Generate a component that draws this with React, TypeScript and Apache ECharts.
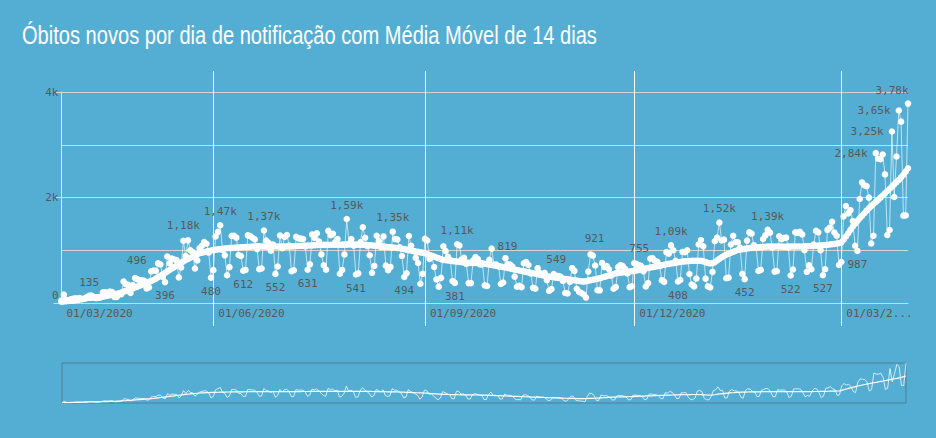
import React, { useEffect, useRef } from "react";
import * as echarts from "echarts";

// ---------- data (daily deaths by notification date) ----------
const deathsMar20 = [45, 160, 60, 50, 70];
const deathsApr20 = [80, 90, 85, 95, 70, 80, 114, 135, 141, 115, 90, 99, 105, 204, 204, 188, 217, 206, 115, 113, 166, 165, 407, 357, 346, 189, 338, 474, 449, 435];
const deathsMay20 = [428, 421, 275, 296, 600, 615, 610, 751, 730, 496, 396, 881, 749, 844, 824, 816, 485, 674, 1179, 888, 1188, 1001, 965, 653, 807, 1039, 1086, 1156, 1124, 956, 480];
const deathsJun20 = [623, 1262, 1349, 1473, 1005, 904, 525, 679, 1272, 1274, 1239, 909, 892, 612, 627, 1282, 1269, 1238, 1206, 1022, 641, 654, 1374, 1185, 1141, 990, 1109, 552, 692, 1280];
const deathsJul20 = [1038, 1252, 1290, 1091, 602, 620, 1254, 1223, 1220, 1214, 1071, 631, 733, 1300, 1233, 1322, 1163, 921, 716, 632, 1367, 1284, 1311, 1156, 1211, 555, 627, 921, 1592, 1129, 1212];
const deathsAug20 = [1088, 541, 561, 1154, 1437, 1237, 1079, 905, 572, 703, 1274, 1175, 1060, 1262, 709, 620, 684, 1352, 1212, 1204, 1054, 892, 494, 565, 1271, 1085, 984, 855, 758, 366, 553];
const deathsSep20 = [1215, 1184, 834, 874, 682, 447, 310, 476, 1075, 983, 874, 814, 415, 381, 1113, 1090, 829, 858, 739, 377, 377, 809, 869, 831, 729, 729, 335, 322, 819, 1031];
const deathsOct20 = [729, 728, 695, 363, 389, 850, 734, 730, 690, 500, 309, 325, 300, 754, 776, 720, 560, 287, 271, 660, 566, 549, 571, 432, 231, 264, 549, 510, 513, 495, 418];
const deathsNov20 = [190, 179, 400, 660, 610, 270, 211, 190, 162, 103, 595, 921, 898, 711, 243, 240, 760, 680, 700, 640, 520, 270, 302, 680, 720, 700, 650, 560, 300, 317];
const deathsDec20 = [755, 740, 720, 700, 600, 313, 376, 842, 848, 800, 780, 700, 433, 400, 964, 936, 1092, 1000, 800, 408, 437, 968, 963, 1000, 550, 350, 314, 465, 1111, 1194, 1074];
const deathsJan21 = [462, 314, 293, 590, 1171, 1242, 1524, 1186, 1201, 469, 480, 1110, 1274, 1151, 1151, 1050, 551, 452, 1183, 1340, 1316, 1096, 1050, 609, 627, 1214, 1283, 1386, 1334, 1050, 595];
const deathsFeb21 = [601, 1266, 1209, 1232, 1239, 1050, 522, 635, 1340, 1330, 1351, 1300, 1000, 591, 713, 639, 1109, 1367, 1340, 1000, 527, 639, 1386, 1428, 1541, 1337, 1275, 721];
const deathsMar21 = [778, 1641, 1840, 1699, 1760, 1555, 1086, 987, 1972, 2286, 2233, 2216, 1997, 1127, 1275, 2841, 2736, 2724, 2815, 2438, 1290, 1383, 3251, 2009, 2777, 3650, 3438, 1656, 1660, 3780];

// ---------- data (14-day moving average) ----------
const maMar20 = [25, 30, 35, 38, 42];
const maApr20 = [45, 52, 60, 68, 75, 83, 90, 95, 99, 103, 107, 111, 116, 120, 128, 137, 146, 155, 165, 175, 185, 200, 215, 230, 246, 262, 278, 294, 310, 328];
const maMay20 = [346, 364, 382, 400, 418, 436, 463, 490, 517, 544, 571, 599, 626, 653, 680, 707, 734, 761, 788, 815, 836, 858, 879, 900, 922, 943, 953, 964, 974, 984, 995];
const maJun20 = [1005, 1011, 1016, 1022, 1027, 1033, 1038, 1041, 1044, 1047, 1050, 1053, 1056, 1058, 1061, 1064, 1067, 1070, 1072, 1074, 1073, 1071, 1070, 1068, 1067, 1068, 1070, 1071, 1072, 1071];
const maJul20 = [1070, 1070, 1070, 1072, 1074, 1076, 1079, 1081, 1083, 1085, 1087, 1089, 1091, 1093, 1096, 1098, 1100, 1101, 1102, 1102, 1103, 1103, 1104, 1104, 1105, 1105, 1106, 1106, 1107, 1108, 1108];
const maAug20 = [1108, 1107, 1106, 1105, 1103, 1102, 1100, 1096, 1091, 1087, 1082, 1078, 1073, 1069, 1064, 1060, 1056, 1051, 1047, 1042, 1038, 1029, 1021, 1012, 1003, 995, 986, 977, 969, 960, 952];
const maSep20 = [943, 927, 911, 895, 879, 863, 847, 831, 815, 810, 805, 800, 795, 790, 785, 780, 775, 770, 765, 763, 761, 760, 758, 756, 754, 752, 744, 737, 729, 721];
const maOct20 = [713, 706, 698, 690, 681, 672, 663, 654, 644, 635, 626, 617, 608, 599, 590, 581, 572, 563, 554, 545, 536, 527, 518, 509, 500, 494, 488, 481, 475, 469, 463];
const maNov20 = [456, 450, 444, 437, 431, 424, 418, 411, 405, 414, 424, 433, 442, 451, 461, 470, 483, 496, 510, 523, 536, 550, 563, 569, 575, 581, 587, 592, 598, 604];
const maDec20 = [610, 619, 628, 637, 646, 655, 664, 672, 681, 690, 699, 708, 717, 726, 735, 742, 749, 756, 764, 771, 778, 785, 789, 793, 797, 800, 802, 802, 801, 798, 790];
const maJan21 = [775, 760, 748, 755, 775, 805, 840, 868, 893, 915, 935, 952, 970, 987, 1005, 1012, 1019, 1026, 1033, 1040, 1044, 1048, 1051, 1055, 1059, 1062, 1066, 1070, 1070, 1070, 1070];
const maFeb21 = [1070, 1070, 1069, 1068, 1068, 1069, 1070, 1070, 1070, 1070, 1070, 1072, 1074, 1077, 1079, 1081, 1083, 1086, 1088, 1090, 1095, 1100, 1105, 1110, 1115, 1120, 1127, 1133];
const maMar21 = [1150, 1200, 1260, 1323, 1387, 1450, 1502, 1555, 1607, 1655, 1702, 1750, 1797, 1837, 1876, 1916, 1955, 1997, 2039, 2081, 2123, 2165, 2207, 2249, 2292, 2334, 2382, 2429, 2492, 2555];

const FIRST_DAY = "2020-03-27";
const MONTH_MARKS = ["01/06/2020", "01/09/2020", "01/12/2020", "01/03/2021"];
const Y_TICKS = [0, 2000, 4000];
const TITLE = "Óbitos novos por dia de notificação com Média Móvel de 14 dias";

// labelled points: date -> placement
const LABELLED: [string, string, number[]][] = [
  ["08/04/2020", "top", [0, 0]],
  ["10/05/2020", "top", [-26, -3]],
  ["11/05/2020", "bottom", [0, 0]],
  ["19/05/2020", "top", [0, -2]],
  ["31/05/2020", "bottom", [0, 0]],
  ["04/06/2020", "top", [0, 0]],
  ["14/06/2020", "bottom", [0, 0]],
  ["23/06/2020", "top", [0, 0]],
  ["28/06/2020", "bottom", [0, 0]],
  ["12/07/2020", "bottom", [0, 0]],
  ["29/07/2020", "top", [0, 0]],
  ["02/08/2020", "bottom", [0, 0]],
  ["18/08/2020", "top", [0, 0]],
  ["23/08/2020", "bottom", [0, 0]],
  ["14/09/2020", "bottom", [0, 0]],
  ["15/09/2020", "top", [0, 0]],
  ["29/09/2020", "right", [0, -13]],
  ["22/10/2020", "top", [14, -1]],
  ["12/11/2020", "top", [4, -2]],
  ["01/12/2020", "top", [5, -1]],
  ["17/12/2020", "top", [0, 0]],
  ["20/12/2020", "bottom", [0, 0]],
  ["07/01/2021", "top", [0, 0]],
  ["18/01/2021", "bottom", [0, 0]],
  ["28/01/2021", "top", [0, 0]],
  ["07/02/2021", "bottom", [0, 0]],
  ["21/02/2021", "bottom", [0, 0]],
  ["08/03/2021", "bottom", [0, 0]],
  ["16/03/2021", "left", [0, 0]],
  ["23/03/2021", "left", [0, 0]],
  ["26/03/2021", "left", [0, 0]],
  ["30/03/2021", "top", [-16, 1]],
];

const daily = [
  ...deathsMar20, ...deathsApr20, ...deathsMay20, ...deathsJun20, ...deathsJul20, ...deathsAug20,
  ...deathsSep20, ...deathsOct20, ...deathsNov20, ...deathsDec20, ...deathsJan21, ...deathsFeb21, ...deathsMar21,
];
const movingAvg = [
  ...maMar20, ...maApr20, ...maMay20, ...maJun20, ...maJul20, ...maAug20,
  ...maSep20, ...maOct20, ...maNov20, ...maDec20, ...maJan21, ...maFeb21, ...maMar21,
];

const pad2 = (n: number) => (n < 10 ? "0" + n : "" + n);
const startMs = Date.parse(FIRST_DAY + "T00:00:00Z");
const categories = daily.map((_, i) => {
  const d = new Date(startMs + i * 86400000);
  return pad2(d.getUTCDate()) + "/" + pad2(d.getUTCMonth() + 1) + "/" + d.getUTCFullYear();
});

const fmtK = (v: number) =>
  v >= 1000 ? (Math.round(v / 10) / 100).toFixed(2).replace(".", ",") + "k" : String(v);

const LABEL_FONT = "'DejaVu Sans Mono', monospace";
const LABEL_COLOR = "#585858";
const BG = "#54aed3";

export default function App() {
  const ref = useRef<HTMLDivElement>(null);

  useEffect(() => {
    if (!ref.current) return;
    const chart = echarts.init(ref.current, undefined, { renderer: "svg" });

    const labelMap: Record<string, [string, number[]]> = {};
    LABELLED.forEach(([d, pos, off]) => (labelMap[d] = [pos, off]));

    const dailyData = daily.map((v, i) => {
      const spec = labelMap[categories[i]];
      if (!spec) return v;
      return { value: v, label: { show: true, position: spec[0], offset: spec[1] } };
    });

    const isMark = (idx: number) => MONTH_MARKS.indexOf(categories[idx]) >= 0;

    // title width fit
    const titleFamily = "'Liberation Sans Narrow', 'Liberation Sans', sans-serif";
    const titleSize = 26;
    let scaleX = 1;
    try {
      const c = document.createElement("canvas").getContext("2d");
      if (c) {
        c.font = `${titleSize}px ${titleFamily}`;
        const w = c.measureText(TITLE).width;
        if (w > 0) scaleX = 575 / w;
      }
    } catch (e) {}

    chart.setOption({
      animation: false,
      backgroundColor: BG,
      graphic: [
        {
          type: "text",
          x: 22,
          y: 35,
          scaleX,
          style: {
            text: TITLE,
            fill: "#ffffff",
            fontSize: titleSize,
            fontFamily: titleFamily,
            verticalAlign: "middle",
            align: "left",
          },
        },
      ],
      grid: [
        { left: 61.5, right: 28, top: 92, bottom: 135, containLabel: false },
        { left: 62, right: 30, top: 363, height: 40, show: true, borderColor: "#4f7f97", borderWidth: 1, backgroundColor: "transparent" },
      ],
      xAxis: [
        {
          type: "category",
          gridIndex: 0,
          data: categories,
          boundaryGap: false,
          axisLine: { show: true, lineStyle: { color: "#d6d6d6", width: 1 } },
          axisTick: { show: true, interval: (idx: number) => isMark(idx), length: 23, lineStyle: { color: "#ffffff" } },
          splitLine: { show: true, interval: (idx: number) => isMark(idx), lineStyle: { color: "#ffffff", width: 1 } },
          axisLabel: {
            show: true,
            interval: (idx: number) => idx === 0 || isMark(idx),
            formatter: (val: string, idx: number) =>
              idx === 0 ? "01" + val.slice(2) : val === "01/03/2021" ? "01/03/2..." : val,
            align: "left",
            padding: [0, 0, 0, 5],
            margin: 5,
            color: LABEL_COLOR,
            fontFamily: LABEL_FONT,
            fontSize: 11,
            hideOverlap: false,
          },
        },
        {
          type: "category",
          gridIndex: 0,
          position: "top",
          data: categories,
          boundaryGap: false,
          axisLine: { show: false },
          axisTick: { show: true, interval: (idx: number) => isMark(idx), length: 21, lineStyle: { color: "#ffffff" } },
          axisLabel: { show: false },
          splitLine: { show: false },
        },
        {
          type: "category",
          gridIndex: 1,
          data: categories,
          boundaryGap: false,
          show: false,
        },
      ],
      yAxis: [
        {
          type: "value",
          gridIndex: 0,
          min: Y_TICKS[0],
          max: Y_TICKS[Y_TICKS.length - 1],
          interval: Y_TICKS[1] - Y_TICKS[0],
          axisLine: { show: true, lineStyle: { color: "#e8e8e8", width: 1 } },
          axisTick: { show: true, length: 8, lineStyle: { color: "#d6d6d6" } },
          minorTick: { show: false, splitNumber: 2 },
          minorSplitLine: { show: true, lineStyle: { color: "#d6d6d6", width: 1 } },
          splitLine: { show: true, lineStyle: { color: "#d6d6d6", width: 1 } },
          axisLabel: {
            margin: 3,
            color: LABEL_COLOR,
            fontFamily: LABEL_FONT,
            fontSize: 11,
            formatter: (v: number) => (v === 0 ? "{z|0}" : v / 1000 + "k"),
            rich: { z: { padding: [0, 0, 16, 0], color: LABEL_COLOR, fontFamily: LABEL_FONT, fontSize: 11 } },
          },
        },
        {
          type: "value",
          gridIndex: 1,
          min: 0,
          max: "dataMax",
          show: false,
          splitLine: { show: false },
        },
      ],
      series: [
        {
          name: "Óbitos novos",
          type: "line",
          xAxisIndex: 0,
          yAxisIndex: 0,
          data: dailyData,
          showAllSymbol: true,
          symbol: "circle",
          symbolSize: 6.5,
          itemStyle: { color: "#ffffff" },
          lineStyle: { color: "rgba(255,255,255,0.65)", width: 1 },
          label: {
            show: false,
            color: LABEL_COLOR,
            fontFamily: LABEL_FONT,
            fontSize: 11,
            distance: 5,
            formatter: (p: any) => fmtK(typeof p.value === "number" ? p.value : p.data.value),
          },
          z: 3,
        },
        {
          name: "Média Móvel 14 dias",
          type: "line",
          xAxisIndex: 0,
          yAxisIndex: 0,
          data: movingAvg,
          showAllSymbol: true,
          symbol: "circle",
          symbolSize: 6.5,
          itemStyle: { color: "#ffffff" },
          lineStyle: { color: "#ffffff", width: 5 },
          z: 4,
        },
        {
          type: "line",
          xAxisIndex: 2,
          yAxisIndex: 1,
          data: daily,
          showSymbol: false,
          symbol: "none",
          lineStyle: { color: "rgba(255,255,255,0.75)", width: 1 },
        },
        {
          type: "line",
          xAxisIndex: 2,
          yAxisIndex: 1,
          data: movingAvg,
          showSymbol: false,
          symbol: "none",
          lineStyle: { color: "#ffffff", width: 1.2 },
        },
      ],
    });

    return () => chart.dispose();
  }, []);

  return (
    <div
      ref={ref}
      style={{ position: "fixed", left: 0, top: 0, width: 936, height: 438, background: BG }}
    />
  );
}
